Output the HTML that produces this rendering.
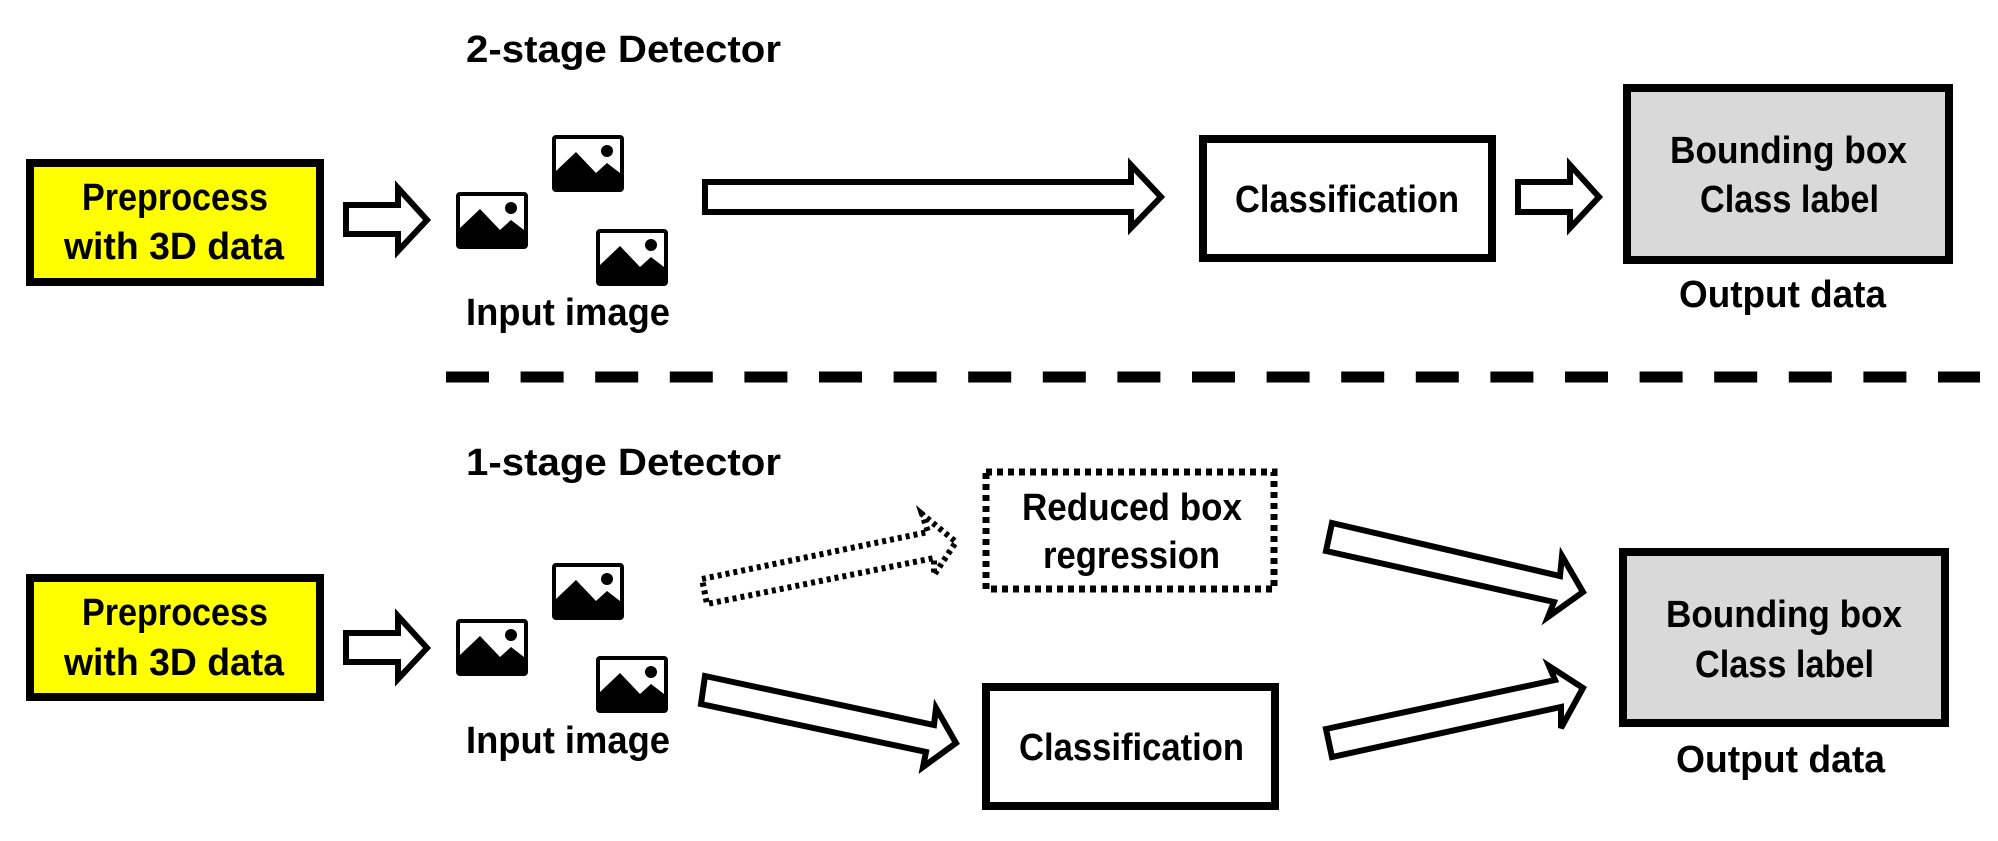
<!DOCTYPE html>
<html><head><meta charset="utf-8"><style>
html,body{margin:0;padding:0;background:#fff;}
svg{display:block;}
text{font-family:"Liberation Sans",Arial,sans-serif;font-weight:bold;font-size:38px;fill:#000;}
</style></head><body>
<svg width="1998" height="841" viewBox="0 0 1998 841" xmlns="http://www.w3.org/2000/svg">
<defs>
<g id="ic">
<rect x="0" y="0" width="72" height="57" rx="4" fill="#000"/>
<rect x="4" y="4" width="64" height="36" fill="#fff"/>
<path d="M4 36 L24 17 L44 38 L55 28 L68 38 L68 42 L4 42 Z" fill="#000"/>
<circle cx="55" cy="16" r="6" fill="#000"/>
</g>
</defs>

<text x="466" y="62" textLength="315" lengthAdjust="spacingAndGlyphs">2-stage Detector</text>
<text x="466" y="475" textLength="315" lengthAdjust="spacingAndGlyphs">1-stage Detector</text>

<rect x="30" y="163" width="290" height="119" fill="#ffff00" stroke="#000" stroke-width="8"/>
<text x="82" y="210" textLength="186" lengthAdjust="spacingAndGlyphs">Preprocess</text>
<text x="64" y="259" textLength="220" lengthAdjust="spacingAndGlyphs">with 3D data</text>
<polygon points="346,205 398,205 398,188 427,220 398,251 398,234 346,234" fill="#fff" stroke="#000" stroke-width="6"/>
<use href="#ic" x="456" y="192"/>
<use href="#ic" x="552" y="135"/>
<use href="#ic" x="596" y="229"/>
<text x="466" y="325" textLength="204" lengthAdjust="spacingAndGlyphs">Input image</text>
<polygon points="705,182 1131,182 1131,165 1161,197 1131,228 1131,212 705,212" fill="#fff" stroke="#000" stroke-width="6"/>
<rect x="1203" y="139" width="289" height="119" fill="#fff" stroke="#000" stroke-width="8"/>
<text x="1235" y="212" textLength="224" lengthAdjust="spacingAndGlyphs">Classification</text>
<polygon points="1518,182 1570,182 1570,165 1599,197 1570,228 1570,212 1518,212" fill="#fff" stroke="#000" stroke-width="6"/>
<rect x="1627" y="88" width="322" height="172" fill="#d9d9d9" stroke="#000" stroke-width="8"/>
<text x="1670" y="163" textLength="237" lengthAdjust="spacingAndGlyphs">Bounding box</text>
<text x="1700" y="212" textLength="179" lengthAdjust="spacingAndGlyphs">Class label</text>
<text x="1679" y="307" textLength="207" lengthAdjust="spacingAndGlyphs">Output data</text>

<line x1="446" y1="377" x2="1980" y2="377" stroke="#000" stroke-width="11" stroke-dasharray="43 31.6"/>

<rect x="30" y="578" width="290" height="119" fill="#ffff00" stroke="#000" stroke-width="8"/>
<text x="82" y="625" textLength="186" lengthAdjust="spacingAndGlyphs">Preprocess</text>
<text x="64" y="675" textLength="220" lengthAdjust="spacingAndGlyphs">with 3D data</text>
<polygon points="346,633 398,633 398,616 427,648 398,679 398,662 346,662" fill="#fff" stroke="#000" stroke-width="6"/>
<use href="#ic" x="456" y="619"/>
<use href="#ic" x="552" y="563"/>
<use href="#ic" x="596" y="656"/>
<text x="466" y="753" textLength="204" lengthAdjust="spacingAndGlyphs">Input image</text>

<polygon points="702,579 928,532 922,514 956,542 934,575 934,558 707,604" fill="#fff" stroke="#000" stroke-width="6" stroke-dasharray="4 4"/>
<rect x="986" y="472" width="288" height="117" fill="#fff" stroke="#000" stroke-width="7" stroke-dasharray="6 5"/>
<text x="1022" y="520" textLength="220" lengthAdjust="spacingAndGlyphs">Reduced box</text>
<text x="1043" y="568" textLength="177" lengthAdjust="spacingAndGlyphs">regression</text>

<polygon points="705,676 934,725 936,708 956,743 923,767 926,752 701,704" fill="#fff" stroke="#000" stroke-width="6"/>
<rect x="986" y="687" width="289" height="119" fill="#fff" stroke="#000" stroke-width="8"/>
<text x="1019" y="760" textLength="225" lengthAdjust="spacingAndGlyphs">Classification</text>

<polygon points="1332,523 1560,576 1562,556 1583,592 1548,617 1554,602 1326,551" fill="#fff" stroke="#000" stroke-width="6"/>
<polygon points="1326,729 1555,680 1549,666 1583,688 1561,728 1561,707 1332,757" fill="#fff" stroke="#000" stroke-width="6"/>

<rect x="1623" y="552" width="322" height="171" fill="#d9d9d9" stroke="#000" stroke-width="8"/>
<text x="1666" y="627" textLength="236" lengthAdjust="spacingAndGlyphs">Bounding box</text>
<text x="1695" y="677" textLength="179" lengthAdjust="spacingAndGlyphs">Class label</text>
<text x="1676" y="772" textLength="209" lengthAdjust="spacingAndGlyphs">Output data</text>
</svg>
</body></html>
